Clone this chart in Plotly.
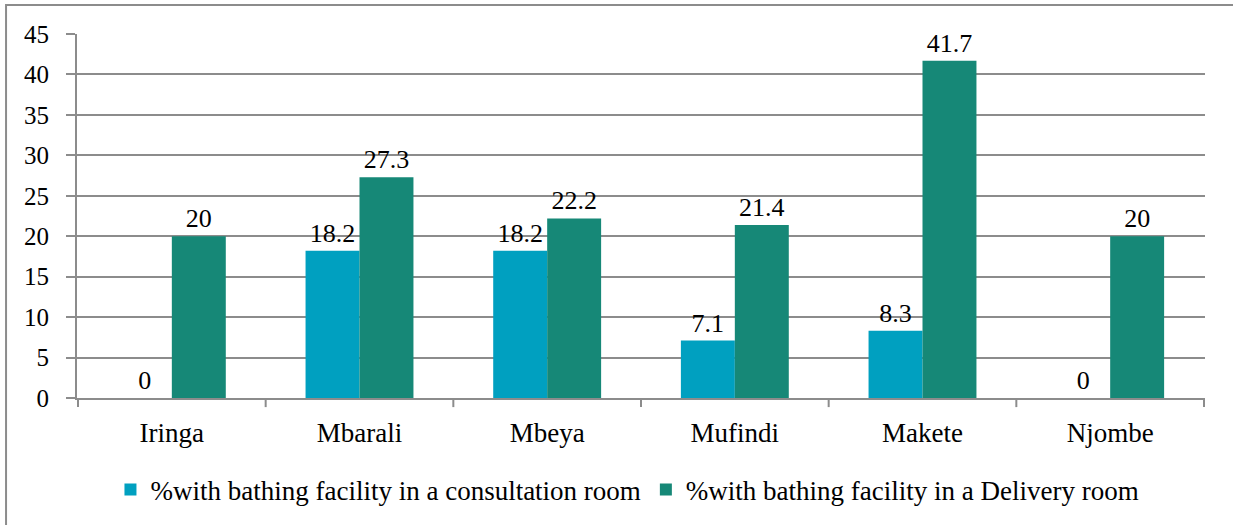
import plotly.graph_objects as go

categories = ["Iringa", "Mbarali", "Mbeya", "Mufindi", "Makete", "Njombe"]
consultation = [0, 18.2, 18.2, 7.1, 8.3, 0]
delivery = [20, 27.3, 22.2, 21.4, 41.7, 20]
series_names = ["%with bathing facility in a consultation room",
                "%with bathing facility in a Delivery room"]
y_ticks = [0, 5, 10, 15, 20, 25, 30, 35, 40, 45]

FONT = "Liberation Serif"

fig = go.Figure()
fig.add_trace(go.Bar(
    x=categories, y=consultation, name=series_names[0],
    marker=dict(color="#00A0C0", line=dict(width=0)),
    text=[f"{v:g}" for v in consultation], textposition="outside",
    textfont=dict(family=FONT, size=26, color="#000000"),
    cliponaxis=False,
))
fig.add_trace(go.Bar(
    x=categories, y=delivery, name=series_names[1],
    marker=dict(color="#168877", line=dict(width=0)),
    text=[f"{v:g}" for v in delivery], textposition="outside",
    textfont=dict(family=FONT, size=26, color="#000000"),
    cliponaxis=False,
))

fig.update_layout(
    width=1233, height=525,
    paper_bgcolor="white", plot_bgcolor="white",
    margin=dict(l=77, r=28, t=34, b=127, autoexpand=False),
    barmode="group", bargap=0.425, bargroupgap=0,
    font=dict(family=FONT, size=24, color="#000000"),
    showlegend=True,
    legend=dict(orientation="h", x=0.488, xanchor="center", y=-0.185, yanchor="top",
                font=dict(family=FONT, size=27), itemsizing="constant",
                traceorder="normal"),
    xaxis=dict(showgrid=False, showline=True, linecolor="#8c8c8c", linewidth=2,
               ticks="", tickfont=dict(family=FONT, size=27),
               ticklabelstandoff=10),
    yaxis=dict(range=[0, 45], tickvals=y_ticks, showgrid=True, gridcolor="#8c8c8c",
               gridwidth=2, showline=True, linecolor="#8c8c8c", linewidth=2,
               ticks="outside", ticklen=9, tickcolor="#8c8c8c", tickwidth=2,
               tickfont=dict(family=FONT, size=25), zeroline=False,
               ticklabelstandoff=12),
    shapes=[
        dict(type="rect", xref="paper", yref="paper", x0=-0.0629, x1=1.05,
             y0=-0.36, y1=1.0797, line=dict(color="#8c8c8c", width=2),
             fillcolor="rgba(0,0,0,0)", layer="below"),
    ],
)

# category tick marks between groups
for i in range(len(categories) + 1):
    fig.add_shape(type="line", xref="x", yref="paper",
                  x0=i - 0.5, x1=i - 0.5, y0=0, y1=-0.025,
                  line=dict(color="#8c8c8c", width=2))

fig.write_html("out.html", config={"displayModeBar": False},
               post_script="document.body.style.margin='0';document.body.style.padding='0';")
